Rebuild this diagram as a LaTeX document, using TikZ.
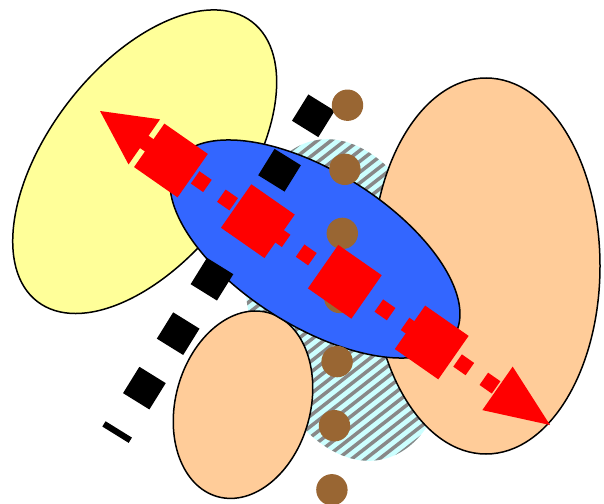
\documentclass[tikz,border=0pt]{standalone}
\usetikzlibrary{shapes.geometric,calc}
\definecolor{yel}{HTML}{FFFF99}
\definecolor{blu}{HTML}{3366FF}
\definecolor{pch}{HTML}{FFCC99}
\definecolor{cya}{HTML}{CCFFFF}
\definecolor{brn}{HTML}{996633}
\definecolor{stripe}{HTML}{888888}
\begin{document}
\begin{tikzpicture}[x=1pt,y=-1pt,
  blob/.style={ellipse, draw=black, line width=1.5pt, inner sep=0pt, outer sep=0pt},
  blackdash/.style={line width=31pt, dash pattern=on 31pt off 33.1pt},
  redthick/.style={red, line width=53pt, dash pattern=on 53pt off 53pt},
  redthin/.style={red, line width=15pt, dash pattern=on 15pt off 17pt},
  dot/.style={fill=brn}]
\useasboundingbox (0,0) rectangle (604,503);
% yellow ellipse
\node[blob, fill=yel, minimum width=352.6pt, minimum height=193.6pt, rotate=52.5] (yellow) at (144.7,161.7) {};
% cyan hatched ellipse
\node[ellipse, fill=cya, inner sep=0pt, minimum width=200pt, minimum height=326pt, rotate=12] (cyanE) at (348,300) {};
\begin{scope}
  \clip[rotate around={12:(348,300)}] (348,300) ellipse [x radius=100pt, y radius=163pt];
  \foreach \i in {-40,...,40}
    \draw[stripe, line width=3.5pt] ({348+13.8*\i-315.2},{300+246.4}) -- ({348+13.8*\i+315.2},{300-246.4});
\end{scope}
% peach ellipses
\node[blob, fill=pch, minimum width=228pt, minimum height=376pt] (rpeach) at (486,266) {};
\node[blob, fill=pch, minimum width=134.8pt, minimum height=190.8pt, rotate=-15.4] (lpeach) at (243,404.7) {};
% blue ellipse
\node[blob, fill=blu, minimum width=328.2pt, minimum height=154.6pt, rotate=-32.1] (blue) at (315,249) {};
% black dashed line
\coordinate (bS) at (321.5,102.6);
\coordinate (bE) at (115.5,434.7);
\draw[blackdash] (bS) -- (bE);
% brown dots
\foreach \k in {0,...,6}
  \fill[dot] ({347.5-2.6*\k},{105.2+64.1*\k}) circle [radius=15.7pt];
% red double-headed dashed arrow
\coordinate (tA) at (100,111);
\coordinate (tB) at (550,425);
\draw[redthick] ($(tA)!60pt!(tB)$) -- ($(tA)!431pt!(tB)$);
\draw[redthin] ($(tA)!52pt!(tB)$) -- ($(tA)!483pt!(tB)$);
\fill[red] (tA) -- ($(tA)!60.6pt!27:(tB)$) -- ($(tA)!60.6pt!-27:(tB)$) -- cycle;
\fill[red] (tB) -- ($(tB)!69.3pt!22.5:(tA)$) -- ($(tB)!69.3pt!-22.5:(tA)$) -- cycle;
\end{tikzpicture}
\end{document}
